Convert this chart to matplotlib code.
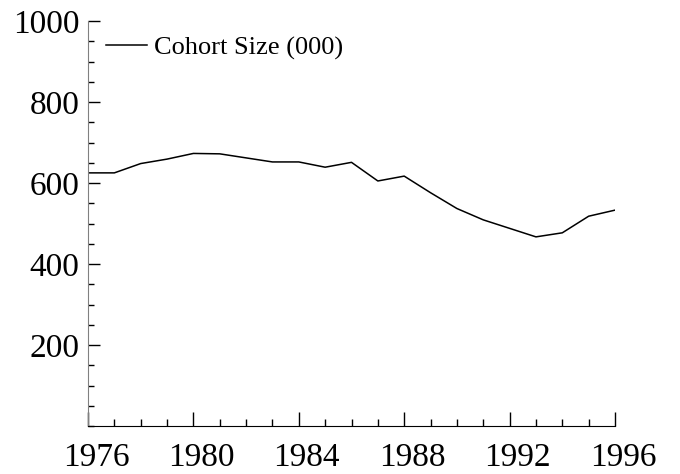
import matplotlib
matplotlib.use("Agg")
from matplotlib import pyplot as plt
from matplotlib.ticker import MultipleLocator, FixedLocator
import matplotlib.transforms as mtrans

# cohort size in thousands
years = [1976, 1977, 1978, 1979, 1980, 1981, 1982, 1983, 1984, 1985, 1986,
         1987, 1988, 1989, 1990, 1991, 1992, 1993, 1994, 1995, 1996]
cohort = [625, 625, 648, 659, 673, 672, 662, 652, 652, 639, 651,
          605, 617, 576, 537, 509, 488, 467, 477, 518, 533]

x_ticks = [1976, 1980, 1984, 1988, 1992, 1996]
y_ticks = [200, 400, 600, 800, 1000]

plt.rcParams['font.family'] = ['Liberation Serif', 'DejaVu Serif']

fig = plt.figure(figsize=(6.8, 4.74), dpi=100)
ax = fig.add_axes([88/680, 48/474, 527/680, 405/474])

ax.plot(years, cohort, color='black', lw=1.1, label='Cohort Size (000)')

ax.set_xlim(1976, 1996)
ax.set_ylim(0, 1000)

ax.xaxis.set_major_locator(FixedLocator(x_ticks))
ax.xaxis.set_minor_locator(MultipleLocator(1))
ax.yaxis.set_major_locator(FixedLocator(y_ticks))
ax.yaxis.set_minor_locator(MultipleLocator(50))

ax.tick_params(axis='both', which='both', direction='in', labelsize=24,
               color='black', width=1)
ax.tick_params(axis='x', which='major', length=10, pad=12)
ax.tick_params(axis='x', which='minor', length=5)
ax.tick_params(axis='y', which='major', length=8.5, pad=6)
ax.tick_params(axis='y', which='minor', length=4.5)

for s in ['top', 'right']:
    ax.spines[s].set_visible(False)
ax.spines['bottom'].set_color('black')
ax.spines['left'].set_color('#808080')

# x labels sit a little right of their ticks in the original
off = mtrans.ScaledTranslation(8/100, 0, fig.dpi_scale_trans)
for lab in ax.get_xticklabels():
    lab.set_transform(lab.get_transform() + off)

ax.legend(loc='center left', bbox_to_anchor=(18/527, 378/405), frameon=False,
          fontsize=19, handlelength=1.55, handletextpad=0.25,
          borderpad=0, borderaxespad=0)

fig.savefig('out.png', dpi=100)
